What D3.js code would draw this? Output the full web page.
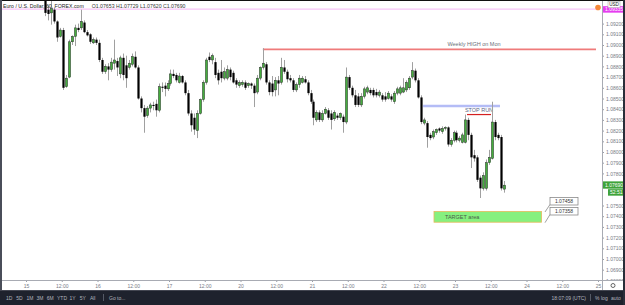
<!DOCTYPE html>
<html>
<head>
<meta charset="utf-8">
<script src="https://cdn.jsdelivr.net/npm/d3@7"></script>
<style>
  html, body { margin: 0; padding: 0; background: #fff; }
  svg { display: block; font-family: "Liberation Sans", Arial, sans-serif; }
</style>
</head>
<body>
<script>
// EUR/USD 60 min candles
const opens = [
  1.0942,1.0933,1.0930,1.0933,1.0922,1.0908,1.0914,1.0861,1.0870,1.0903,
  1.0908,1.0916,1.0916,1.0921,1.0912,1.0910,1.0902,1.0905,1.0902,1.0886,
  1.0875,1.0880,1.0877,1.0883,1.0885,1.0873,1.0888,1.0881,1.0879,1.0882,
  1.0889,1.0879,1.0850,1.0841,1.0834,1.0841,1.0844,1.0845,1.0839,1.0861,
  1.0862,1.0859,1.0864,1.0873,1.0872,1.0865,1.0871,1.0865,1.0855,1.0836,
  1.0832,1.0820,1.0836,1.0849,1.0865,1.0889,1.0886,1.0884,1.0874,1.0875,
  1.0869,1.0869,1.0877,1.0874,1.0867,1.0862,1.0863,1.0865,1.0862,1.0864,
  1.0862,1.0856,1.0869,1.0879,1.0882,1.0865,1.0864,1.0858,1.0867,1.0865,
  1.0879,1.0875,1.0869,1.0867,1.0858,1.0863,1.0865,1.0868,1.0865,1.0855,
  1.0847,1.0830,1.0837,1.0830,1.0836,1.0839,1.0836,1.0831,1.0834,1.0832,
  1.0833,1.0828,1.0870,1.0860,1.0853,1.0852,1.0844,1.0852,1.0856,1.0858,
  1.0858,1.0856,1.0853,1.0853,1.0852,1.0850,1.0852,1.0847,1.0855,1.0855,
  1.0856,1.0858,1.0860,1.0870,1.0876,1.0867,1.0851,1.0827,1.0827,1.0816,
  1.0814,1.0818,1.0822,1.0819,1.0822,1.0823,1.0807,1.0811,1.0818,1.0811,
  1.0809,1.0809,1.0830,1.0816,1.0797,1.0795,1.0776,1.0766,1.0766,1.0790,
  1.0794,1.0828,1.0816,1.0814,1.07653
];
const highs = [
  1.0947,1.0937,1.0944,1.0935,1.0923,1.0916,1.0916,1.0872,1.0905,1.0909,
  1.0919,1.0920,1.0933,1.0923,1.0914,1.0911,1.0907,1.0907,1.0905,1.0888,
  1.0882,1.0883,1.0888,1.0905,1.0888,1.0890,1.0892,1.0890,1.0886,1.0892,
  1.0894,1.0881,1.0852,1.0844,1.0843,1.0846,1.0847,1.0849,1.0864,1.0865,
  1.0865,1.0867,1.0877,1.0877,1.0874,1.0874,1.0872,1.0867,1.0858,1.0839,
  1.0836,1.0839,1.0850,1.0867,1.0888,1.0893,1.0892,1.0888,1.0877,1.0886,
  1.0879,1.0881,1.0879,1.0876,1.0869,1.0867,1.0867,1.0867,1.0865,1.0865,
  1.0864,1.0872,1.0880,1.0897,1.0884,1.0867,1.0871,1.0870,1.0871,1.0888,
  1.0886,1.0877,1.0872,1.0869,1.0865,1.0872,1.0871,1.0871,1.0867,1.0858,
  1.0849,1.0839,1.0839,1.0839,1.0842,1.0841,1.0839,1.0839,1.0836,1.0837,
  1.0835,1.0879,1.0872,1.0862,1.0858,1.0855,1.0855,1.0861,1.0862,1.0860,
  1.0860,1.0859,1.0858,1.0855,1.0856,1.0857,1.0854,1.0857,1.0861,1.0862,
  1.0869,1.0867,1.0871,1.0884,1.0878,1.0869,1.0853,1.0832,1.0829,1.0818,
  1.0821,1.0822,1.0823,1.0824,1.0824,1.0824,1.0813,1.0820,1.0820,1.0815,
  1.0818,1.0835,1.0832,1.0818,1.0802,1.0797,1.0778,1.0781,1.0793,1.0802,
  1.0847,1.0830,1.0818,1.0816,1.07729
];
const lows = [
  1.0927,1.0923,1.0919,1.0920,1.0903,1.0907,1.0858,1.0860,1.0869,1.0900,
  1.0899,1.0912,1.0914,1.0911,1.0908,1.0901,1.0901,1.0900,1.0884,1.0873,
  1.0873,1.0867,1.0875,1.0877,1.0871,1.0869,1.0867,1.0860,1.0877,1.0880,
  1.0878,1.0849,1.0837,1.0818,1.0832,1.0837,1.0839,1.0833,1.0837,1.0856,
  1.0852,1.0857,1.0862,1.0869,1.0865,1.0864,1.0864,1.0853,1.0834,1.0819,
  1.0816,1.0813,1.0835,1.0847,1.0863,1.0884,1.0882,1.0869,1.0863,1.0865,
  1.0867,1.0867,1.0867,1.0864,1.0860,1.0860,1.0861,1.0858,1.0860,1.0859,
  1.0842,1.0854,1.0867,1.0877,1.0863,1.0853,1.0852,1.0852,1.0853,1.0863,
  1.0873,1.0865,1.0865,1.0856,1.0856,1.0860,1.0864,1.0864,1.0853,1.0845,
  1.0825,1.0828,1.0828,1.0828,1.0835,1.0830,1.0821,1.0829,1.0830,1.0830,
  1.0818,1.0826,1.0858,1.0851,1.0842,1.0842,1.0842,1.0850,1.0854,1.0853,
  1.0851,1.0851,1.0851,1.0847,1.0847,1.0849,1.0847,1.0845,1.0853,1.0853,
  1.0855,1.0856,1.0858,1.0868,1.0865,1.0850,1.0826,1.0825,1.0804,1.0811,
  1.0812,1.0816,1.0818,1.0817,1.0820,1.0805,1.0805,1.0809,1.0809,1.0809,
  1.0808,1.0808,1.0811,1.0785,1.0791,1.0772,1.0757,1.0764,1.0764,1.0788,
  1.0793,1.0811,1.0811,1.0764,1.07620
];
const closes = [
  1.0930,1.0929,1.0934,1.0922,1.0907,1.0914,1.0860,1.0869,1.0903,1.0908,
  1.0916,1.0914,1.0922,1.0912,1.0909,1.0903,1.0905,1.0902,1.0886,1.0875,
  1.0880,1.0877,1.0884,1.0886,1.0879,1.0888,1.0872,1.0869,1.0883,1.0889,
  1.0879,1.0850,1.0841,1.0833,1.0841,1.0844,1.0843,1.0839,1.0861,1.0860,
  1.0859,1.0864,1.0873,1.0871,1.0867,1.0871,1.0865,1.0855,1.0836,1.0825,
  1.0821,1.0836,1.0849,1.0865,1.0886,1.0886,1.0890,1.0872,1.0867,1.0869,
  1.0875,1.0877,1.0870,1.0865,1.0863,1.0865,1.0865,1.0860,1.0864,1.0862,
  1.0855,1.0869,1.0879,1.0883,1.0865,1.0856,1.0856,1.0867,1.0864,1.0879,
  1.0875,1.0868,1.0867,1.0858,1.0863,1.0869,1.0869,1.0865,1.0855,1.0847,
  1.0832,1.0837,1.0830,1.0836,1.0840,1.0832,1.0830,1.0837,1.0832,1.0836,
  1.0828,1.0870,1.0860,1.0853,1.0844,1.0844,1.0852,1.0859,1.0860,1.0855,
  1.0853,1.0853,1.0856,1.0849,1.0849,1.0855,1.0849,1.0855,1.0859,1.0860,
  1.0860,1.0865,1.0869,1.0876,1.0867,1.0851,1.0828,1.0830,1.0814,1.0813,
  1.0819,1.0821,1.0820,1.0822,1.0823,1.0807,1.0811,1.0818,1.0811,1.0813,
  1.0816,1.0830,1.0816,1.0795,1.0794,1.0774,1.0766,1.0778,1.0790,1.0795,
  1.0828,1.0814,1.0813,1.0766,1.07690
];
const firstHour = 6.5;   // first candle, trading hours after the 15th 00:00

const priceTicks = [1.068,1.069,1.070,1.071,1.072,1.073,1.074,1.075,1.077,1.078,1.079,
  1.080,1.081,1.082,1.083,1.084,1.085,1.086,1.087,1.088,1.089,1.090,1.091,1.092];
const timeTicks = [0,12,24,36,48,60,72,84,96,108,120,132,144,156,168,180,192];
const timeLabels = ["15","12:00","16","12:00","17","12:00","20","12:00","21","12:00",
  "22","12:00","23","12:00","24","12:00","25"];

const lastPrice = 1.07690, countdown = "52:51";
const alertPrice = 1.09335;
const weeklyHigh = 1.0896, weeklyHighFrom = 79.5;
const stopRunLevel = 1.0843, stopRunFrom = 133.3, stopRunTo = 159.1;
const stopRunMark = 1.0835;
const targetTop = 1.07458, targetBottom = 1.07358;
const toolbarLeft = ["1D","5D","1M","3M","6M","YTD","1Y","5Y","All"];

const W = 625, H = 305;
const plotR = 602, axisY = 280;

const x = d3.scaleLinear().domain([0, 192]).range([26, 598]);
const y = d3.scaleLinear().domain([1.08, 1.09]).range([152, 45]);

const svg = d3.select("body").append("svg").attr("width", W).attr("height", H);

svg.append("defs").append("clipPath").attr("id", "plot")
  .append("rect").attr("x", 2).attr("y", 1).attr("width", plotR - 2).attr("height", axisY - 1);

const plot = svg.append("g").attr("clip-path", "url(#plot)");

// alert line (pink)
plot.append("line")
  .attr("x1", 0).attr("x2", 597)
  .attr("y1", y(alertPrice)).attr("y2", y(alertPrice))
  .style("stroke", "#f7c4f7").style("stroke-width", 1.2);

// weekly high
plot.append("line")
  .attr("x1", x(weeklyHighFrom)).attr("x2", 596)
  .attr("y1", y(weeklyHigh)).attr("y2", y(weeklyHigh))
  .style("stroke", "#ef7b7b").style("stroke-width", 1.8);
plot.append("text")
  .attr("x", 474).attr("y", y(weeklyHigh) - 3)
  .attr("text-anchor", "middle")
  .style("font-size", "5.5px").style("fill", "#6b6f7a")
  .text("Weekly HIGH on Mon");

// stop run
plot.append("line")
  .attr("x1", x(stopRunFrom)).attr("x2", x(stopRunTo))
  .attr("y1", y(stopRunLevel)).attr("y2", y(stopRunLevel))
  .style("stroke", "#b4bcf6").style("stroke-width", 2.6);
plot.append("line")
  .attr("x1", 467).attr("x2", 491)
  .attr("y1", y(stopRunMark)).attr("y2", y(stopRunMark))
  .style("stroke", "#d42020").style("stroke-width", 1.2);
plot.append("text")
  .attr("x", 479).attr("y", y(stopRunMark) - 2.5)
  .attr("text-anchor", "middle")
  .style("font-size", "5.5px").style("fill", "#5a6585")
  .text("STOP RUN");

// target area
plot.append("rect")
  .attr("x", 434).attr("width", 107.5)
  .attr("y", y(targetTop) + 1.5).attr("height", y(targetBottom) - y(targetTop))
  .style("fill", "#86f07f").style("stroke", "#e6b85a").style("stroke-width", 0.8);
plot.append("text")
  .attr("x", 445).attr("y", (y(targetTop) + y(targetBottom)) / 2 + 3.5)
  .style("font-size", "5.5px").style("fill", "#4a5a4a")
  .text("TARGET area");

// callouts
[targetTop, targetBottom].forEach((p, k) => {
  const by = 197.5 + k * 10;
  plot.append("line")
    .attr("x1", 550).attr("y1", by + 7).attr("x2", 545).attr("y2", y(p) + 2)
    .style("stroke", "#777").style("stroke-width", 0.7);
  plot.append("rect")
    .attr("x", 550).attr("y", by).attr("width", 28).attr("height", 7.5)
    .style("fill", "#fff").style("stroke", "#8a8a8a").style("stroke-width", 0.8);
  plot.append("text")
    .attr("x", 564).attr("y", by + 5.5).attr("text-anchor", "middle")
    .style("font-size", "5px").style("fill", "#333")
    .text(d3.format(".5f")(p));
});

// candles
const candles = opens.map((o, i) => ({ o, h: highs[i], l: lows[i], c: closes[i], t: firstHour + i }));
const cg = plot.append("g").selectAll("g").data(candles).enter().append("g");
cg.append("line")
  .attr("x1", d => Math.round(x(d.t)) + 0.5).attr("x2", d => Math.round(x(d.t)) + 0.5)
  .attr("y1", d => y(d.h)).attr("y2", d => y(d.l))
  .style("stroke", "#a0a0a0").style("stroke-width", 1);
cg.append("rect")
  .attr("x", d => Math.round(x(d.t)) - 0.6)
  .attr("width", 2.2)
  .attr("y", d => y(Math.max(d.o, d.c)))
  .attr("height", d => Math.max(1, Math.abs(y(d.o) - y(d.c))))
  .style("fill", d => d.c >= d.o ? "#45ad3e" : "#000")
  .style("stroke", d => d.c >= d.o ? "#222" : "none")
  .style("stroke-width", 0.45);

// header legend
const head = svg.append("text").attr("x", 3).attr("y", 8).style("font-size", "5.2px").style("fill", "#222");
head.append("tspan").text("Euro / U.S. Dollar, 60, FOREX.com");
head.append("tspan").attr("dx", 8).style("fill", "#333")
  .text("O1.07653  H1.07729  L1.07620  C1.07690");

// price axis
svg.append("rect").attr("x", plotR).attr("y", 0).attr("width", W - plotR).attr("height", axisY).style("fill", "#fff");
const ya = svg.append("g").attr("transform", `translate(${plotR},0)`)
  .call(d3.axisRight(y).tickValues(priceTicks).tickFormat(d3.format(".5f")).tickSize(2).tickPadding(2));
ya.select(".domain").remove();
ya.selectAll("line").style("stroke", "#9a9ea8");
ya.selectAll("text").style("font-size", "5px").style("fill", "#787b86")
  .style("font-family", "'Liberation Sans', Arial, sans-serif");
svg.append("line").attr("x1", plotR + 0.5).attr("x2", plotR + 0.5).attr("y1", 0).attr("y2", axisY)
  .style("stroke", "#a8abb3").style("stroke-width", 1);

// time axis
svg.append("rect").attr("x", 0).attr("y", axisY).attr("width", W).attr("height", H - axisY).style("fill", "#fff");
const xa = svg.append("g").attr("transform", `translate(0,${axisY})`)
  .call(d3.axisBottom(x).tickValues(timeTicks).tickFormat((d, i) => timeLabels[i]).tickSize(2).tickPadding(2));
xa.select(".domain").remove();
xa.selectAll("line").style("stroke", "#9a9ea8");
xa.selectAll("text").style("font-size", "5px").style("fill", "#787b86")
  .style("font-family", "'Liberation Sans', Arial, sans-serif");
svg.append("line").attr("x1", 0).attr("x2", W).attr("y1", axisY + 0.5).attr("y2", axisY + 0.5)
  .style("stroke", "#a8abb3").style("stroke-width", 1);
svg.append("line").attr("x1", plotR + 0.5).attr("x2", plotR + 0.5).attr("y1", axisY).attr("y2", 290)
  .style("stroke", "#a8abb3").style("stroke-width", 1);

// gear icon in the corner
svg.append("circle").attr("cx", 613).attr("cy", 285.5).attr("r", 2)
  .style("fill", "none").style("stroke", "#555").style("stroke-width", 0.9);

// price tags
svg.append("rect").attr("x", plotR + 1).attr("y", y(lastPrice) - 3.8).attr("width", 21).attr("height", 7.3)
  .style("fill", "#3fa33a");
svg.append("text").attr("x", plotR + 3).attr("y", y(lastPrice) + 1.8)
  .style("font-size", "5px").style("fill", "#fff").text(d3.format(".5f")(lastPrice));
svg.append("rect").attr("x", plotR + 6).attr("y", y(lastPrice) + 4).attr("width", 16).attr("height", 6.5)
  .style("fill", "#3fa33a");
svg.append("text").attr("x", plotR + 8).attr("y", y(lastPrice) + 9.2)
  .style("font-size", "5px").style("fill", "#fff").text(countdown);

svg.append("rect").attr("x", plotR + 1).attr("y", y(alertPrice) - 3).attr("width", 21).attr("height", 6.5)
  .style("fill", "#e53df0");
svg.append("text").attr("x", plotR + 3).attr("y", y(alertPrice) + 2)
  .style("font-size", "5px").style("fill", "#fff").text(d3.format(".5f")(alertPrice));

svg.append("rect").attr("x", 608).attr("y", 1.5).attr("width", 12).attr("height", 6)
  .style("fill", "#fff").style("stroke", "#b0b0b0").style("stroke-width", 0.6);
svg.append("text").attr("x", 614).attr("y", 6.3).attr("text-anchor", "middle")
  .style("font-size", "4.6px").style("fill", "#222").text("USD");
svg.append("circle").attr("cx", 598).attr("cy", 7.5).attr("r", 2.8).style("fill", "#f5883a");

// bottom toolbar
svg.append("rect").attr("x", 0).attr("y", 290).attr("width", W).attr("height", 15).style("fill", "#1e222d");
svg.append("line").attr("x1", 0).attr("x2", W).attr("y1", 290.5).attr("y2", 290.5)
  .style("stroke", "#434651").style("stroke-width", 1);
let tx = 6;
toolbarLeft.forEach(s => {
  svg.append("text").attr("x", tx).attr("y", 299.5)
    .style("font-size", "5px").style("fill", "#b2b5be").text(s);
  tx += s.length > 2 ? 12.5 : 10.2;
});
svg.append("line").attr("x1", 103.5).attr("x2", 103.5).attr("y1", 294).attr("y2", 301)
  .style("stroke", "#555a66");
svg.append("text").attr("x", 109).attr("y", 299.5)
  .style("font-size", "5px").style("fill", "#b2b5be").text("Go to...");
svg.append("text").attr("x", 586).attr("y", 299.5).attr("text-anchor", "end")
  .style("font-size", "5px").style("fill", "#b2b5be").text("18:07:09 (UTC)");
svg.append("line").attr("x1", 590.5).attr("x2", 590.5).attr("y1", 294).attr("y2", 301)
  .style("stroke", "#555a66");
[["%", 595], ["log", 601], ["auto", 611]].forEach(([s, px]) => {
  svg.append("text").attr("x", px).attr("y", 299.5)
    .style("font-size", "5px").style("fill", "#b2b5be").text(s);
});

// frame edges
svg.append("rect").attr("x", 0).attr("y", 0).attr("width", W).attr("height", 1).style("fill", "#111");
svg.append("rect").attr("x", 0).attr("y", 0).attr("width", 2).attr("height", 290).style("fill", "#4a4e59");
svg.append("rect").attr("x", W - 2).attr("y", 0).attr("width", 2).attr("height", H).style("fill", "#2a2e39");
</script>
</body>
</html>
